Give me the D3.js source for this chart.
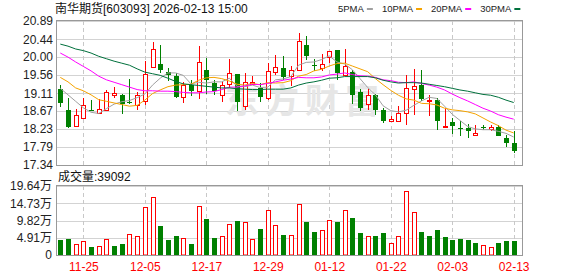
<!DOCTYPE html>
<html>
<head>
<meta charset="utf-8">
<script src="https://cdn.jsdelivr.net/npm/d3@7"></script>
<style>
body { margin: 0; background: #fff; }
svg { display: block; }
text { font-family: Arial, "Liberation Sans", "Noto Sans CJK SC", sans-serif; }
</style>
</head>
<body>
<script>
// trading days shown (MM-DD), 2025-11-20 .. 2026-02-13
const dates = ["11-20","11-21","11-24","11-25","11-26","11-27","11-28","12-01","12-02","12-03",
  "12-04","12-05","12-08","12-09","12-10","12-11","12-12","12-15","12-16","12-17",
  "12-18","12-19","12-22","12-23","12-24","12-25","12-26","12-29","12-30","12-31",
  "01-05","01-06","01-07","01-08","01-09","01-12","01-13","01-14","01-15","01-16",
  "01-19","01-20","01-21","01-22","01-23","01-26","01-27","01-28","01-29","01-30",
  "02-02","02-03","02-04","02-05","02-06","02-09","02-10","02-11","02-12","02-13"];

const open = [19.21,18.70,18.29,18.49,18.70,18.63,18.70,19.07,19.06,18.89,
  18.83,18.92,19.76,19.83,19.63,19.54,19.01,19.32,19.16,19.68,
  19.36,19.07,19.34,19.58,18.79,19.34,19.24,18.99,19.63,19.73,
  19.53,19.67,20.29,19.80,19.73,20.00,20.17,19.57,19.63,19.14,
  18.84,19.07,18.70,18.42,18.43,18.61,19.21,19.32,18.91,18.95,
  18.28,18.40,18.26,18.25,18.07,18.28,18.23,18.28,18.01,17.88];
const high = [19.32,18.99,18.72,18.99,18.95,18.97,19.20,19.26,19.09,19.46,
  19.14,19.91,20.37,20.31,19.72,19.61,19.39,19.43,20.27,19.99,
  19.44,19.40,19.95,19.58,19.61,19.53,19.35,19.85,20.04,20.02,
  19.77,20.59,20.51,19.96,20.08,20.16,20.17,20.20,19.67,19.22,
  19.22,19.09,18.75,18.54,18.79,19.57,19.71,19.67,19.06,18.99,
  18.75,18.50,18.42,18.35,18.32,18.33,18.32,18.32,18.07,18.17];
const low = [18.76,18.24,18.28,18.49,18.67,18.63,18.68,19.00,18.60,18.84,
  18.70,18.83,19.75,19.61,19.40,18.99,18.88,19.05,18.97,19.09,
  19.07,18.89,19.24,18.68,18.70,19.34,18.89,18.95,19.55,19.44,
  19.28,19.65,19.94,19.65,19.65,19.85,19.44,19.53,18.85,18.66,
  18.70,18.58,18.38,18.42,18.43,18.32,18.58,18.91,18.56,18.21,
  18.28,18.11,18.05,18.01,18.07,18.21,18.17,18.05,17.78,17.64];
const close = [18.87,18.28,18.57,18.81,18.68,18.71,19.13,19.12,18.84,18.87,
  19.06,19.58,20.20,19.68,19.55,19.02,19.30,19.16,19.87,19.44,
  19.16,19.32,19.60,18.89,19.38,19.38,19.02,19.65,19.75,19.50,
  19.69,20.39,20.02,19.78,19.84,20.14,19.61,19.77,19.07,18.75,
  19.06,18.70,18.43,18.47,18.61,19.24,19.29,18.97,18.95,18.43,
  18.31,18.30,18.23,18.17,18.12,18.25,18.28,18.05,17.88,17.68];

// volume in 手
const volume = [43400,46200,32000,40500,23500,25500,45300,26400,32000,59500,
  53800,136000,164000,83000,43400,54700,48000,32000,139000,103000,
  49000,53800,88000,97000,93500,45300,74500,127500,85000,57500,
  57500,144500,94400,66000,70800,99000,94400,127500,105700,63200,
  53800,54700,63200,34900,53800,181000,122000,66000,54700,71700,
  51900,43400,46200,43400,34900,28300,22700,34900,40500,39092];

const ma5 = [19.23,19.07,18.91,18.75,18.64,18.61,18.73,18.84,18.90,18.93,
  19.00,19.09,19.31,19.48,19.61,19.61,19.55,19.34,19.38,19.36,
  19.39,19.39,19.48,19.28,19.27,19.31,19.25,19.26,19.44,19.46,
  19.52,19.80,19.87,19.88,19.94,20.03,19.88,19.83,19.69,19.47,
  19.25,19.07,18.80,18.68,18.65,18.69,18.81,18.92,19.01,18.98,
  18.79,18.59,18.44,18.29,18.23,18.21,18.21,18.17,18.12,18.03];
const ma10 = [19.50,19.39,19.24,19.17,19.07,18.95,18.91,18.87,18.83,18.79,
  18.81,18.94,19.10,19.19,19.27,19.31,19.32,19.33,19.43,19.49,
  19.50,19.47,19.41,19.33,19.31,19.35,19.32,19.37,19.36,19.37,
  19.42,19.53,19.57,19.66,19.70,19.78,19.84,19.85,19.78,19.71,
  19.64,19.47,19.32,19.18,19.06,18.97,18.94,18.86,18.85,18.82,
  18.74,18.70,18.68,18.65,18.60,18.50,18.40,18.31,18.20,18.13];
const ma20 = [20.10,20.00,19.88,19.77,19.66,19.53,19.44,19.38,19.32,19.26,
  19.20,19.17,19.17,19.16,19.16,19.15,19.13,19.12,19.12,19.14,
  19.15,19.20,19.26,19.26,19.29,19.33,19.32,19.35,19.39,19.43,
  19.46,19.50,19.49,19.49,19.51,19.56,19.58,19.61,19.57,19.54,
  19.53,19.50,19.44,19.42,19.38,19.37,19.39,19.35,19.31,19.26,
  19.19,19.09,19.00,18.92,18.83,18.74,18.67,18.58,18.52,18.47];
const ma30 = [20.32,20.27,20.20,20.16,20.10,20.02,19.96,19.90,19.85,19.80,
  19.71,19.63,19.59,19.55,19.48,19.40,19.34,19.32,19.30,19.28,
  19.26,19.24,19.24,19.22,19.21,19.20,19.20,19.21,19.21,19.21,
  19.24,19.31,19.36,19.39,19.43,19.48,19.49,19.52,19.52,19.52,
  19.52,19.49,19.43,19.39,19.36,19.37,19.37,19.36,19.33,19.30,
  19.27,19.23,19.19,19.16,19.12,19.08,19.06,19.01,18.94,18.88];

const priceTicks = [17.34,17.79,18.23,18.67,19.11,19.56,20.00,20.44,20.89];
const volTicks = [0,49100,98200,147300,196400];
const dateTicks = ["11-25","12-05","12-17","12-29","01-12","01-22","02-03","02-13"];
const maNames = ["5PMA","10PMA","20PMA","30PMA"];
const maColors = ["#a0a0a0","#f5a300","#ff00ff","#00703c"];

const width = 578, height = 276;
const left = 56, right = 522;
const red = "#ff0000", green = "#008000";

const svg = d3.select("body").append("svg").attr("width", width).attr("height", height);

const x = d3.scalePoint().domain(dates).range([60.3, 513.7]);
const y = d3.scaleLinear().domain([17.34, 20.89]).range([165, 21]);
const yv = d3.scaleLinear().domain([0, 196400]).range([255, 186]);

const crisp = v => Math.round(v) + 0.5;

function grid(scale, ticks, top, bottom) {
  svg.append("g").selectAll("line").data(ticks).join("line")
    .attr("x1", left).attr("x2", right)
    .attr("y1", d => crisp(scale(d))).attr("y2", d => crisp(scale(d)))
    .attr("stroke", "#d3d3d3");
  svg.append("g").selectAll("line").data(dateTicks).join("line")
    .attr("x1", d => crisp(x(d))).attr("x2", d => crisp(x(d)))
    .attr("y1", top).attr("y2", bottom)
    .attr("stroke", "#c8c8c8").attr("stroke-dasharray", "4,3");
}
grid(y, priceTicks, 21, 165);
grid(yv, volTicks, 186, 255);

// watermark
svg.append("text").attr("x", 305).attr("y", 113).attr("text-anchor", "middle")
  .attr("font-size", 34).attr("font-weight", "bold").attr("letter-spacing", 6)
  .attr("fill", "#e6e6e6").style("font-family", "'Noto Sans CJK SC', sans-serif")
  .text("东方财富");

// candles
const idx = d3.range(dates.length);
const cg = svg.append("g");
idx.forEach(i => {
  const X = Math.round(x(dates[i]));
  const up = close[i] > open[i];
  const t = Math.round(y(Math.max(open[i], close[i])));
  const b = Math.round(y(Math.min(open[i], close[i])));
  const h = Math.round(y(high[i])), l = Math.round(y(low[i]));
  if (up) {
    cg.append("line").attr("x1", X + 0.5).attr("x2", X + 0.5).attr("y1", h).attr("y2", t).attr("stroke", red);
    cg.append("line").attr("x1", X + 0.5).attr("x2", X + 0.5).attr("y1", b + 1).attr("y2", l).attr("stroke", red);
    cg.append("rect").attr("x", X - 1.5).attr("y", t + 0.5).attr("width", 4).attr("height", Math.max(1, b - t))
      .attr("fill", "#fff").attr("stroke", red);
  } else {
    cg.append("line").attr("x1", X + 0.5).attr("x2", X + 0.5).attr("y1", h).attr("y2", l).attr("stroke", green);
    cg.append("rect").attr("x", X - 2).attr("y", t).attr("width", 5).attr("height", Math.max(1, b - t))
      .attr("fill", green);
  }
});

// moving averages
[ma5, ma10, ma20, ma30].forEach((m, k) => {
  svg.append("path").datum(m)
    .attr("fill", "none").attr("stroke", maColors[k]).attr("stroke-width", 1)
    .attr("d", d3.line().x((d, i) => x(dates[i])).y(d => y(d)));
});

// volume bars: red when close >= previous close
const vg = svg.append("g");
idx.forEach(i => {
  const X = Math.round(x(dates[i]));
  const rise = i > 0 ? close[i] >= close[i - 1] : close[i] > open[i];
  const t = Math.round(yv(volume[i]));
  if (rise) {
    vg.append("rect").attr("x", X - 1.5).attr("y", t + 0.5).attr("width", 4).attr("height", 255 - t - 0.5)
      .attr("fill", "#fff").attr("stroke", red);
  } else {
    vg.append("rect").attr("x", X - 2).attr("y", t).attr("width", 5).attr("height", 255 - t + 1)
      .attr("fill", green);
  }
});

// frames
svg.append("rect").attr("x", left + 0.5).attr("y", 20.5).attr("width", right - left).attr("height", 145)
  .attr("fill", "none").attr("stroke", "#999");
svg.append("rect").attr("x", left + 0.5).attr("y", 185.5).attr("width", right - left).attr("height", 70)
  .attr("fill", "none").attr("stroke", "#999");

// axis labels
svg.append("g").selectAll("text").data(priceTicks).join("text")
  .attr("x", 53).attr("y", d => y(d)).attr("dy", "0.36em").attr("text-anchor", "end")
  .attr("font-size", 12).attr("fill", "#222")
  .text(d => d3.format(".2f")(d));
svg.append("g").selectAll("text").data(volTicks).join("text")
  .attr("x", 52).attr("y", d => yv(d)).attr("dy", "0.36em").attr("text-anchor", "end")
  .attr("font-size", 12).attr("fill", "#222")
  .text(d => d === 0 ? "0" : d3.format(".2f")(d / 10000) + "万");
svg.append("g").selectAll("text").data(dateTicks).join("text")
  .attr("x", d => x(d) + 0.5).attr("y", 271).attr("text-anchor", "middle")
  .attr("font-size", 12).attr("fill", red)
  .text(d => d);

// title and volume caption
svg.append("text").attr("x", 55).attr("y", 13).attr("font-size", 12).attr("fill", "#111")
  .text("南华期货[603093] 2026-02-13 15:00");
svg.append("text").attr("x", 58).attr("y", 181).attr("font-size", 12).attr("fill", "#111")
  .text("成交量:" + volume[volume.length - 1]);

// legend
let lx = 338;
maNames.forEach((name, k) => {
  const t = svg.append("text").attr("x", lx).attr("y", 12).attr("font-size", 9.5).attr("fill", "#222").text(name);
  lx += t.node().getComputedTextLength() + 3;
  svg.append("rect").attr("x", lx).attr("y", 8).attr("width", 6).attr("height", 2).attr("fill", maColors[k]);
  lx += 15;
});
</script>
</body>
</html>
